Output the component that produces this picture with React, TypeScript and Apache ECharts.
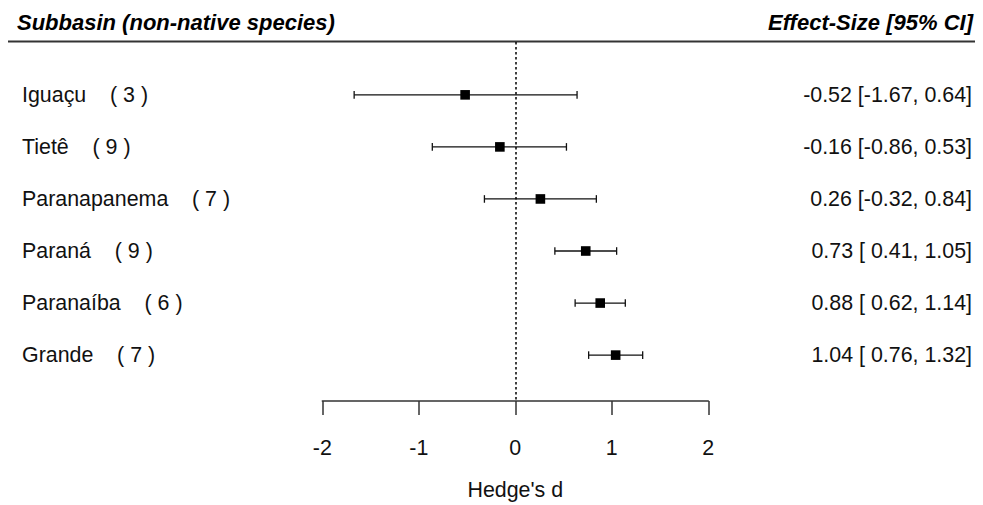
import React, { useEffect, useRef } from "react";
import * as echarts from "echarts";

const subbasins = ["Iguaçu", "Tietê", "Paranapanema", "Paraná", "Paranaíba", "Grande"];
const nStudies = [3, 9, 7, 9, 6, 7];
const effect = [-0.52, -0.16, 0.26, 0.73, 0.88, 1.04];
const lower = [-1.67, -0.86, -0.32, 0.41, 0.62, 0.76];
const upper = [0.64, 0.53, 0.84, 1.05, 1.14, 1.32];
const xTicks = [-2, -1, 0, 1, 2];
const headerLeft = "Subbasin (non-native species)";
const headerRight = "Effect-Size [95% CI]";
const xTitle = "Hedge's d";

const NB = "\u00a0";
const fmt = (v: number) => (v < 0 ? v.toFixed(2) : NB + v.toFixed(2));
const leftLabels = subbasins.map((s, i) => `${s}${NB.repeat(4)}(${NB}${nStudies[i]}${NB})`);
const rightLabels = effect.map((e, i) => `${e.toFixed(2)}${NB}[${fmt(lower[i])},${NB}${upper[i].toFixed(2)}]`);

const FONT = "'Liberation Sans', Arial, sans-serif";
const FS = 21.4;

export default function App() {
  const ref = useRef<HTMLDivElement>(null);
  useEffect(() => {
    if (!ref.current) return;
    const chart = echarts.init(ref.current, null, { renderer: "svg" });
    const rowIdx = subbasins.map((_, i) => i);
    const option: any = {
      animation: false,
      backgroundColor: "#ffffff",
      textStyle: { fontFamily: FONT },
      grid: { left: 322.3, right: 274.7, top: 42, height: 360, containLabel: false },
      xAxis: {
        type: "value",
        min: -2,
        max: 2,
        interval: 1,
        position: "bottom",
        axisLine: { show: true, onZero: false, lineStyle: { color: "#333", width: 1.5 } },
        axisTick: { show: true, inside: false, length: 14, lineStyle: { color: "#333", width: 1.5 } },
        splitLine: { show: false },
        axisLabel: {
          margin: 36,
          color: "#111",
          fontSize: FS,
          fontFamily: FONT,
          customValues: xTicks,
          formatter: (v: number) => String(v),
        },
        name: xTitle,
        nameLocation: "middle",
        nameGap: 78,
        nameTextStyle: { color: "#111", fontSize: FS, fontFamily: FONT },
      },
      yAxis: [
        {
          type: "value",
          inverse: true,
          min: -1.0153,
          max: 5.8817,
          position: "left",
          axisLine: { show: false, onZero: false },
          axisTick: { show: false },
          splitLine: { show: false },
          axisLabel: {
            show: true,
            customValues: rowIdx,
            align: "left",
            margin: 300.3,
            color: "#111",
            fontSize: FS,
            fontFamily: FONT,
            formatter: (v: number) => leftLabels[Math.round(v)] ?? "",
          },
        },
        {
          type: "value",
          inverse: true,
          min: -1.0153,
          max: 5.8817,
          position: "right",
          axisLine: { show: false, onZero: false },
          axisTick: { show: false },
          splitLine: { show: false },
          axisLabel: {
            show: true,
            customValues: rowIdx,
            align: "right",
            margin: 263.7,
            color: "#111",
            fontSize: FS,
            fontFamily: FONT,
            formatter: (v: number) => rightLabels[Math.round(v)] ?? "",
          },
        },
      ],
      graphic: [
        {
          type: "line",
          shape: { x1: 8, y1: 41.5, x2: 975, y2: 41.5 },
          style: { stroke: "#333", lineWidth: 1.8 },
          silent: true,
        },
        {
          type: "text",
          x: 17,
          y: 22,
          style: {
            text: headerLeft,
            font: `italic bold 22px ${FONT}`,
            fill: "#000",
            textAlign: "left",
            textVerticalAlign: "middle",
          },
        },
        {
          type: "text",
          x: 973,
          y: 22,
          style: {
            text: headerRight,
            font: `italic bold 22px ${FONT}`,
            fill: "#000",
            textAlign: "right",
            textVerticalAlign: "middle",
          },
        },
      ],
      series: [
        {
          type: "custom",
          xAxisIndex: 0,
          yAxisIndex: 0,
          clip: false,
          encode: { x: [0, 1, 2], y: 3 },
          data: subbasins.map((_, i) => [lower[i], upper[i], effect[i], i]),
          renderItem: (params: any, api: any) => {
            const y = api.value(3);
            const p1 = api.coord([api.value(0), y]);
            const p2 = api.coord([api.value(1), y]);
            const pe = api.coord([api.value(2), y]);
            const cap = 3.8;
            const ls = { stroke: "#111", lineWidth: 1.3 };
            const sq = 9.6;
            return {
              type: "group",
              children: [
                { type: "line", shape: { x1: p1[0], y1: p1[1], x2: p2[0], y2: p2[1] }, style: ls },
                { type: "line", shape: { x1: p1[0], y1: p1[1] - cap, x2: p1[0], y2: p1[1] + cap }, style: ls },
                { type: "line", shape: { x1: p2[0], y1: p2[1] - cap, x2: p2[0], y2: p2[1] + cap }, style: ls },
                {
                  type: "rect",
                  shape: { x: pe[0] - sq / 2, y: pe[1] - sq / 2, width: sq, height: sq },
                  style: { fill: "#000" },
                },
              ],
            };
          },
          markLine: {
            silent: true,
            symbol: ["none", "none"],
            label: { show: false },
            lineStyle: { type: [2.5, 2.5], color: "#000", width: 1.5 },
            data: [{ xAxis: 0 }],
          },
          z: 3,
        },
      ],
    };
    chart.setOption(option);
    return () => chart.dispose();
  }, []);
  return (
    <div
      ref={ref}
      style={{ position: "fixed", left: 0, top: 0, width: 983, height: 505, background: "#fff" }}
    />
  );
}
